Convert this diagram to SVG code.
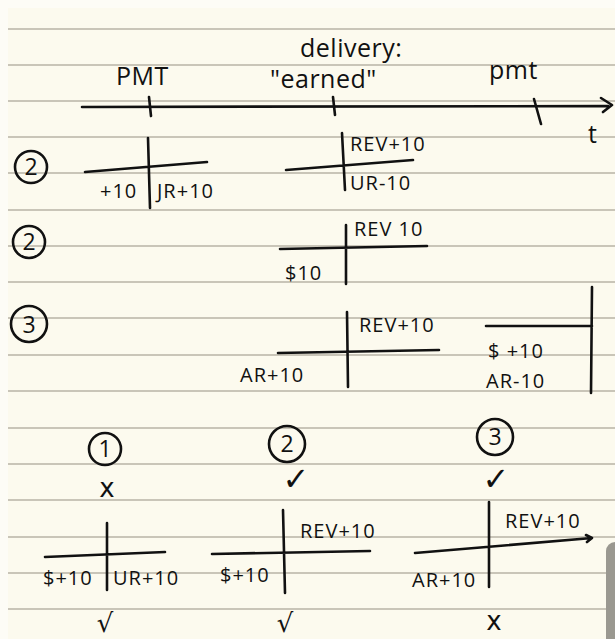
<svg xmlns="http://www.w3.org/2000/svg" width="615" height="639" viewBox="0 0 615 639">
<defs>
<style>
.bg{fill:#fcfaee}
.rule{stroke:#c9c5b8;stroke-width:2}
.ink{stroke:#111;stroke-width:2.6;fill:none;stroke-linecap:round;stroke-linejoin:round}
.t{font-family:"Open Sans","Liberation Sans",sans-serif;fill:#111;font-size:20px;letter-spacing:1px}
.big{font-size:25px;letter-spacing:0.5px}
.num{font-family:"Open Sans","Liberation Sans",sans-serif;fill:#111;font-size:23px;text-anchor:middle}
.mk{font-family:"DejaVu Sans",sans-serif;fill:#111;font-size:26px;text-anchor:middle}
.ck{font-size:32px}
</style>
</defs>
<rect x="0" y="0" width="615" height="639" fill="#fdfcf6"/>
<rect class="bg" x="8" y="8" width="607" height="631"/>
<g id="rules">
<line class="rule" x1="8" y1="29" x2="615" y2="29"/>
<line class="rule" x1="8" y1="65" x2="615" y2="65"/>
<line class="rule" x1="8" y1="101" x2="615" y2="101"/>
<line class="rule" x1="8" y1="137" x2="615" y2="137"/>
<line class="rule" x1="8" y1="173" x2="615" y2="173"/>
<line class="rule" x1="8" y1="210" x2="615" y2="210"/>
<line class="rule" x1="8" y1="246" x2="615" y2="246"/>
<line class="rule" x1="8" y1="282" x2="615" y2="282"/>
<line class="rule" x1="8" y1="318" x2="615" y2="318"/>
<line class="rule" x1="8" y1="355" x2="615" y2="355"/>
<line class="rule" x1="8" y1="391" x2="615" y2="391"/>
<line class="rule" x1="8" y1="428" x2="615" y2="428"/>
<line class="rule" x1="8" y1="464" x2="615" y2="464"/>
<line class="rule" x1="8" y1="500" x2="615" y2="500"/>
<line class="rule" x1="8" y1="537" x2="615" y2="537"/>
<line class="rule" x1="8" y1="573" x2="615" y2="573"/>
<line class="rule" x1="8" y1="609" x2="615" y2="609"/>
</g>
<rect x="606" y="542" width="20" height="110" rx="9" fill="#9a9890"/>

<g id="timeline">
<path class="ink" d="M82 107 L608 106 M601 98 L612 105 L603 112"/>
<path class="ink" d="M149 97 L151 116 M333 97 L335 115 M534 99 L541 124"/>
<text class="t big" x="116" y="85">PMT</text>
<text class="t big" x="300" y="57">delivery:</text>
<text class="t big" x="270" y="88">"earned"</text>
<text class="t big" x="489" y="79">pmt</text>
<text class="t big" x="588" y="143">t</text>
</g>

<g id="row1">
<circle class="ink" cx="31" cy="167" r="16"/>
<text class="num" x="31" y="175">2</text>
<path class="ink" d="M85 172 L207 162 M148 138 L150 208"/>
<text class="t" x="100" y="198">+10</text>
<text class="t" x="157" y="198">JR+10</text>
<path class="ink" d="M286 170 L413 160 M342 133 L345 190"/>
<text class="t" x="350" y="151">REV+10</text>
<text class="t" x="350" y="190">UR-10</text>
</g>

<g id="row2">
<circle class="ink" cx="29" cy="242" r="16"/>
<text class="num" x="29" y="250">2</text>
<path class="ink" d="M280 249 L427 246 M346 225 L346 284"/>
<text class="t" x="354" y="236">REV 10</text>
<text class="t" x="285" y="280">$10</text>
</g>

<g id="row3">
<circle class="ink" cx="29" cy="324" r="18"/>
<text class="num" x="29" y="333">3</text>
<path class="ink" d="M278 353 L439 350 M347 312 L348 387"/>
<text class="t" x="359" y="332">REV+10</text>
<text class="t" x="240" y="382">AR+10</text>
<path class="ink" d="M486 326 L592 326 M592 287 L591 393"/>
<text class="t" x="488" y="358">$ +10</text>
<text class="t" x="486" y="388">AR-10</text>
</g>

<g id="summary">
<circle class="ink" cx="105" cy="449" r="16"/>
<text class="num" x="105" y="457">1</text>
<circle class="ink" cx="287" cy="444" r="18"/>
<text class="num" x="287" y="452">2</text>
<circle class="ink" cx="495" cy="437" r="18"/>
<text class="num" x="495" y="445">3</text>
<text class="mk" x="107" y="497">x</text>
<text class="mk ck" x="296" y="490">✓</text>
<text class="mk ck" x="496" y="490">✓</text>

<path class="ink" d="M45 557 L165 552 M107 523 L107 590"/>
<text class="t" x="43" y="585">$+10</text>
<text class="t" x="113" y="585">UR+10</text>
<text class="mk" x="105" y="632">√</text>

<path class="ink" d="M212 554 L370 551 M283 510 L285 593"/>
<text class="t" x="300" y="538">REV+10</text>
<text class="t" x="220" y="582">$+10</text>
<text class="mk" x="285" y="632">√</text>

<path class="ink" d="M415 553 L592 538 M586 535 L592 538 L587 542 M489 502 L489 587"/>
<text class="t" x="505" y="528">REV+10</text>
<text class="t" x="412" y="587">AR+10</text>
<text class="mk" x="494" y="630">x</text>
</g>
</svg>
